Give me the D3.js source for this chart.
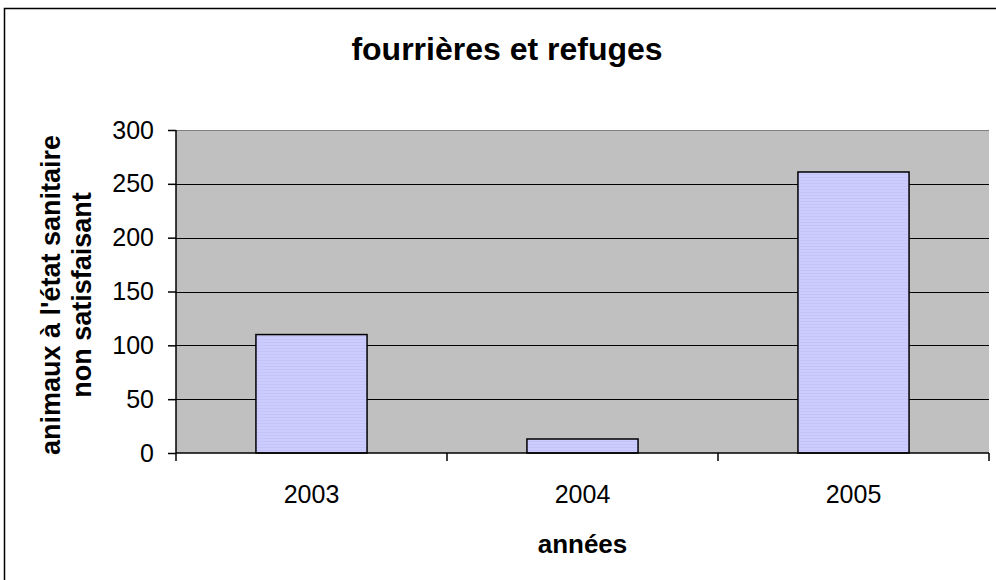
<!DOCTYPE html>
<html>
<head>
<meta charset="utf-8">
<script src="https://cdn.jsdelivr.net/npm/d3@7"></script>
<style>
  body { margin: 0; background: #fff; }
  text { font-family: "Liberation Sans", Arial, sans-serif; fill: #000; }
</style>
</head>
<body>
<script>
var years = ['2003', '2004', '2005'];
var animaux = [110, 13, 261];
var yTicks = [0, 50, 100, 150, 200, 250, 300];

var width = 996;
var height = 580;

var svg = d3.select('body')
    .append('svg')
    .attr('width', width)
    .attr('height', height);

// chart frame
svg.append('rect')
    .attr('x', 4.5).attr('y', 8.5)
    .attr('width', 1000).attr('height', 600)
    .attr('fill', 'none')
    .attr('stroke', '#000')
    .attr('stroke-width', 1.5);

var plotLeft = 176, plotRight = 989, plotTop = 130, plotBottom = 453;

var x = d3.scaleBand()
    .domain(years)
    .range([plotLeft, plotRight])
    .paddingInner(0.59)
    .paddingOuter(0.295);

var y = d3.scaleLinear()
    .domain([0, 300])
    .range([plotBottom, plotTop]);

var g = svg.append('g');

g.append('rect')
    .attr('x', plotLeft).attr('y', plotTop)
    .attr('width', plotRight - plotLeft).attr('height', plotBottom - plotTop)
    .attr('fill', '#c0c0c0');

// grid
g.selectAll('.grid')
    .data(yTicks.filter(function(d) { return d > 0; }))
    .enter()
    .append('line')
    .attr('x1', plotLeft).attr('x2', plotRight)
    .attr('y1', function(d) { return Math.round(y(d)) + 0.5; })
    .attr('y2', function(d) { return Math.round(y(d)) + 0.5; })
    .attr('stroke', function(d) { return d === 300 ? '#808080' : '#000'; })
    .attr('stroke-width', 1);

// faint stripes like the original bars
var defs = svg.append('defs');
var pat = defs.append('pattern')
    .attr('id', 'stripes')
    .attr('patternUnits', 'userSpaceOnUse')
    .attr('width', 4).attr('height', 3);
pat.append('rect').attr('width', 4).attr('height', 3).attr('fill', '#ccccff');
pat.append('rect').attr('width', 4).attr('height', 1).attr('fill', '#c4c4f8');

g.selectAll('.bar')
    .data(animaux)
    .enter()
    .append('rect')
    .attr('x', function(d, i) { return x(years[i]); })
    .attr('y', function(d) { return y(d); })
    .attr('width', x.bandwidth())
    .attr('height', function(d) { return plotBottom - y(d); })
    .attr('fill', 'url(#stripes)')
    .attr('stroke', '#000')
    .attr('stroke-width', 1.5);

// axes
var yAxis = d3.axisLeft(y).tickValues(yTicks).tickSize(8).tickPadding(14);
var ya = svg.append('g')
    .attr('transform', 'translate(' + plotLeft + ',0)')
    .call(yAxis);
ya.select('.domain').attr('stroke', '#000').attr('stroke-width', 1.5)
    .attr('d', 'M0,' + plotTop + 'V' + plotBottom);
ya.selectAll('text').style('font-size', '25px');
ya.selectAll('.tick line').attr('stroke-width', 1.5);

var xAxis = d3.axisBottom(x).tickSize(0).tickPadding(32);
var xa = svg.append('g')
    .attr('transform', 'translate(0,' + plotBottom + ')')
    .call(xAxis);
xa.select('.domain').attr('stroke', '#000').attr('stroke-width', 1.5)
    .attr('d', 'M' + plotLeft + ',0H' + plotRight);
xa.selectAll('text').style('font-size', '25px');

// category separators
xa.selectAll('.sep')
    .data(d3.range(years.length + 1))
    .enter()
    .append('line')
    .attr('x1', function(d) { return plotLeft + d * x.step() + (d === 0 ? 0 : 0); })
    .attr('x2', function(d) { return plotLeft + d * x.step(); })
    .attr('y1', 0).attr('y2', 8)
    .attr('stroke', '#000')
    .attr('stroke-width', 1.5);

// titles
svg.append('text')
    .attr('x', 507).attr('y', 60)
    .attr('text-anchor', 'middle')
    .style('font-size', '32px').style('font-weight', 'bold')
    .text('fourrières et refuges');

svg.append('text')
    .attr('x', (plotLeft + plotRight) / 2).attr('y', 553)
    .attr('text-anchor', 'middle')
    .style('font-size', '26px').style('font-weight', 'bold')
    .text('années');

var yl = svg.append('text')
    .attr('transform', 'translate(0,295) rotate(-90)')
    .attr('text-anchor', 'middle')
    .style('font-size', '27px').style('font-weight', 'bold');
yl.append('tspan').attr('x', 0).attr('y', 60).text("animaux à l'état sanitaire");
yl.append('tspan').attr('x', 0).attr('y', 91).text('non satisfaisant');
</script>
</body>
</html>
